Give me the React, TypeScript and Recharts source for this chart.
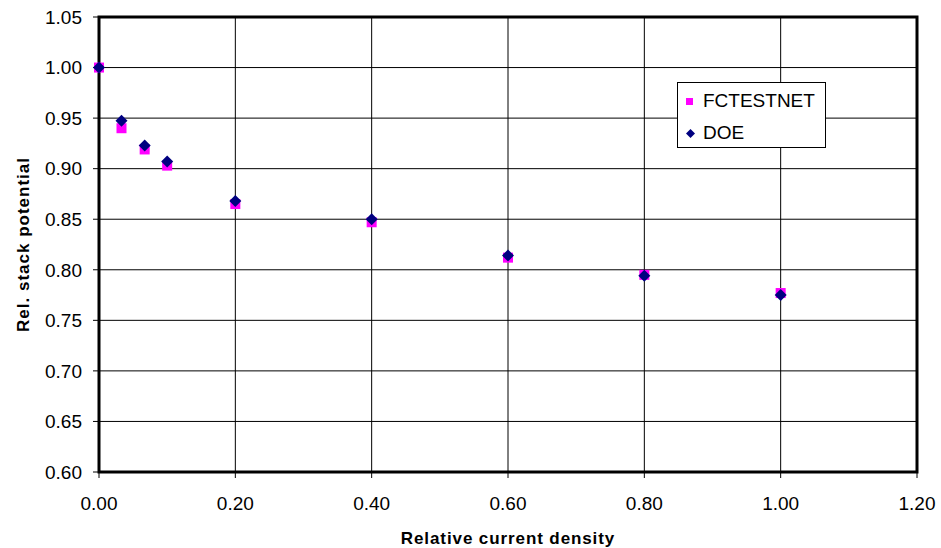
import { ScatterChart, Scatter, XAxis, YAxis, CartesianGrid, ReferenceArea, Legend } from "recharts"

// values
const CURRENT_DENSITY = [0, 0.033, 0.067, 0.1, 0.2, 0.4, 0.6, 0.8, 1.0]
const FCTESTNET = [1.0, 0.94, 0.919, 0.903, 0.865, 0.847, 0.812, 0.795, 0.777]
const DOE = [1.0, 0.9475, 0.923, 0.907, 0.868, 0.85, 0.814, 0.794, 0.775]

const X_TICKS = [0, 0.2, 0.4, 0.6, 0.8, 1.0, 1.2]
const Y_TICKS = [0.6, 0.65, 0.7, 0.75, 0.8, 0.85, 0.9, 0.95, 1.0, 1.05]

const MAGENTA = "#FF00FF"
const NAVY = "#000080"
const FONT = "'Liberation Sans', Arial, sans-serif"

const fcData = CURRENT_DENSITY.map((x, i) => ({ x, y: FCTESTNET[i] }))
const doeData = CURRENT_DENSITY.map((x, i) => ({ x, y: DOE[i] }))

const SquareDot = (props: any) => {
  const { cx, cy } = props
  return <rect x={cx - 5} y={cy - 5} width={10} height={10} fill={MAGENTA} />
}

const DiamondDot = (props: any) => {
  const { cx, cy } = props
  return <path d={`M${cx},${cy - 6} L${cx + 6},${cy} L${cx},${cy + 6} L${cx - 6},${cy} Z`} fill={NAVY} />
}

const LegendBox = () => (
  <div
    style={{
      width: 149,
      height: 66,
      border: "1px solid #000",
      background: "#fff",
      fontFamily: FONT,
      fontSize: 19,
      color: "#000",
      boxSizing: "border-box",
      position: "relative",
    }}
  >
    <div style={{ position: "absolute", left: 8, top: 7, display: "flex", alignItems: "center" }}>
      <span style={{ display: "inline-block", width: 7, height: 7, background: MAGENTA, marginRight: 10 }} />
      <span>FCTESTNET</span>
    </div>
    <div style={{ position: "absolute", left: 8, top: 39, display: "flex", alignItems: "center" }}>
      <svg width={9} height={9} style={{ marginRight: 8 }}>
        <path d="M4.5,0 L9,4.5 L4.5,9 L0,4.5 Z" fill={NAVY} />
      </svg>
      <span>DOE</span>
    </div>
  </div>
)

export default function App() {
  return (
    <div style={{ position: "absolute", left: 0, top: 0, width: 941, height: 548, background: "#fff" }}>
      <ScatterChart width={941} height={548} margin={{ top: 17, right: 24, bottom: 0, left: 39 }}>
        <CartesianGrid stroke="#000" strokeWidth={1} horizontalValues={Y_TICKS} verticalValues={X_TICKS} />
        <XAxis
          type="number"
          dataKey="x"
          domain={[0, 1.2]}
          ticks={X_TICKS}
          tickFormatter={(v: number) => v.toFixed(2)}
          axisLine={false}
          tickLine={{ stroke: "#000" }}
          tickSize={6}
          tickMargin={19}
          height={76}
          tick={{ fill: "#000", fontSize: 19, fontFamily: FONT }}
          label={{
            value: "Relative current density",
            position: "insideBottom",
            offset: 4,
            style: { fontWeight: "bold", fontSize: 17, letterSpacing: 0.9, fill: "#000", fontFamily: FONT },
          }}
        />
        <YAxis
          type="number"
          dataKey="y"
          domain={[0.6, 1.05]}
          ticks={Y_TICKS}
          tickFormatter={(v: number) => v.toFixed(2)}
          axisLine={false}
          tickLine={{ stroke: "#000" }}
          tickSize={6}
          tickMargin={11}
          width={60}
          tick={{ fill: "#000", fontSize: 19, fontFamily: FONT }}
          label={{
            value: "Rel. stack potential",
            angle: -90,
            position: "insideLeft",
            offset: -16,
            style: { textAnchor: "middle", fontWeight: "bold", fontSize: 17, letterSpacing: 1, fill: "#000", fontFamily: FONT },
          }}
        />
        <ReferenceArea x1={0} x2={1.2} y1={0.6} y2={1.05} fill="none" stroke="#000" strokeWidth={3} />
        <Legend
          layout="vertical"
          align="center"
          verticalAlign="middle"
          content={<LegendBox />}
          wrapperStyle={{ left: 677, top: 82, width: 149 }}
        />
        <Scatter name="FCTESTNET" data={fcData} fill={MAGENTA} shape={<SquareDot />} isAnimationActive={false} />
        <Scatter name="DOE" data={doeData} fill={NAVY} shape={<DiamondDot />} isAnimationActive={false} />
      </ScatterChart>
    </div>
  )
}
